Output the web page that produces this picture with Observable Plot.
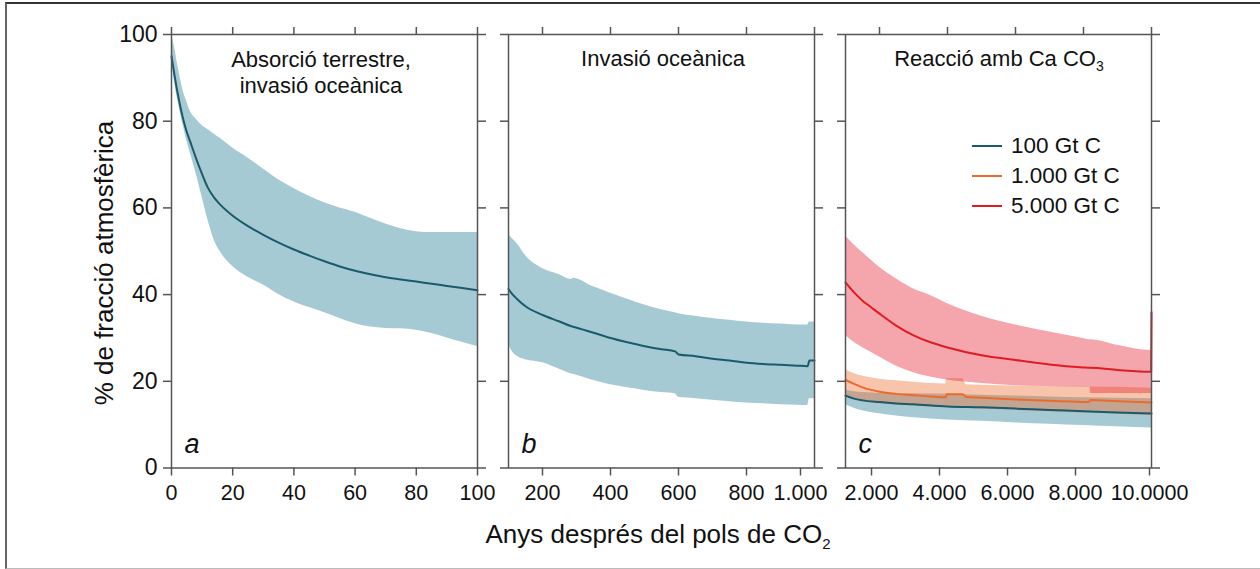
<!DOCTYPE html>
<html><head><meta charset="utf-8">
<script src="https://cdn.jsdelivr.net/npm/d3@7"></script>
<script src="https://cdn.jsdelivr.net/npm/@observablehq/plot@0.6"></script>
<style>
body{margin:0;background:#fff;font-family:"Liberation Sans",Arial,Helvetica,sans-serif;}
#wrap{position:relative;width:1260px;height:569px;overflow:hidden;background:#fff;}
.abs{position:absolute;}
.ptitle{position:absolute;font-size:22px;line-height:26px;text-align:center;white-space:nowrap;color:#111;transform:translateX(-50%);}
.leg{position:absolute;font-size:22.5px;line-height:30px;color:#111;white-space:nowrap;}
.leg span.sw{display:inline-block;width:30px;height:2.5px;vertical-align:middle;margin-right:9px;position:relative;top:-1px;}
#border{position:absolute;left:5px;top:2px;width:1300px;height:564px;border-top:2px solid #333;border-left:2px solid #666;border-bottom:1.5px solid #bbb;}
</style></head>
<body><div id="wrap"><div id="border"></div></div>
<script>
// ---------- data ----------
const yTicks = [0, 20, 40, 60, 80, 100];
const aTicks = [0, 20, 40, 60, 80, 100];
const bTicks = [200, 400, 600, 800, 1000];
const bTickLabels = ["200", "400", "600", "800", "1.000"];
const cTicks = [2000, 4000, 6000, 8000, 10000];
const cTickLabels = ["2.000", "4.000", "6.000", "8.000", "10.0000"];

const panelTitles = ["Absorció terrestre,<br>invasió oceànica", "Invasió oceànica", "Reacció amb Ca CO<sub style=\"font-size:14px;vertical-align:-5px\">3</sub>"];
const panelLetters = ["a", "b", "c"];
const seriesNames = ["100 Gt C", "1.000 Gt C", "5.000 Gt C"];
const yTitle = "% de fracció atmosfèrica";
const xTitle = "Anys després del pols de CO<sub style=\"font-size:15px;vertical-align:-6px\">2</sub>";

// panel a (0-100 years)
const aYears = [0,1,2,3,4,5,6,8,10,12,14,16,20,25,30,35,40,45,50,55,60,65,70,75,80,85,90,95,100];
const aMid = [95,90.5,86.5,83,80,77.5,75.5,71.5,67.8,64.5,62.3,60.7,58.2,55.8,53.8,52,50.4,49,47.7,46.5,45.5,44.7,44,43.5,43,42.5,42,41.5,41];
const aHi  = [100,97,93,89.5,86.5,84.5,82.5,80.5,79,78,77,76,73.8,71.5,69,66.5,64.5,62.7,61.2,60,59,57.6,56.3,55.2,54.5,54.3,54.3,54.3,54.3];
const aLo  = [95,89,85,81.5,78.5,75.5,73,68,62.5,57,52.5,49.8,46.5,44,42.2,40,38.3,37,35.8,34.5,33.3,32.5,32.2,32.1,31.8,31,30,29,28];

// panel b (100-1000 years)
const bYears = [100,110,125,150,200,250,285,290,350,400,450,500,550,590,600,650,700,750,800,850,900,950,980,985,1000];
const bMid = [41.3,40.2,39,37.3,35.3,33.8,32.7,32.6,31.2,30,29,28.1,27.4,26.9,26.2,25.8,25.2,24.8,24.3,24,23.8,23.6,23.5,24.8,24.8];
const bHi  = [54,53,51.8,49,46,44.6,43.5,43.8,41.8,40.3,38.9,37.6,36.5,35.8,35.6,35,34.5,34.1,33.7,33.4,33.2,33,33,33.7,33.7];
const bLo  = [28.6,27,25.8,25,24.3,22.8,21.7,21.6,20.2,19.2,18.5,17.9,17.4,17.1,16.3,16,15.6,15.3,15,14.8,14.6,14.5,14.4,16,16];

// panel c (1000-10000 years)
const redYears = [1000,1250,1500,1750,2000,2500,3000,3500,4000,5000,6000,7000,8000,8190,8210,9000,9990,10000];
const redMid = [42.8,40.5,38.6,37.1,35.6,32.8,30.6,29,27.8,26,24.9,23.9,23.2,23.1,23.1,22.6,22.2,35.9];
const redHi  = [53.6,51.5,49.7,48,46.3,43.6,41.3,39.8,37.9,35,33,31.4,29.9,29.6,29.6,28.3,27.1,27.1];
const redLo  = [30.5,29,27.8,26.7,25.6,23.5,22,21,20.3,19.5,19,18.8,18.6,18.6,17.2,17.2,17.2,17.2];

const orYears = [1000,1250,1500,2000,2500,3000,3500,3950,3970,4450,4550,5000,6000,7000,8150,8200,9000,10000];
const orMid = [20.3,19.4,18.6,17.6,17.1,16.8,16.5,16.3,17,17,16.4,16.2,15.8,15.5,15.2,15.7,15.4,15.1];
const orHi  = [22.6,21.8,21.2,20.5,20.1,19.8,19.5,19.4,20.6,20.6,19.2,19.1,18.9,18.8,18.7,18.7,18.6,18.4];
const orLo  = [16.3,15.8,15.3,14.8,14.5,14.3,14.1,14,14,14,13.8,13.6,13.3,13,12.7,12.7,12.4,12.1];

const blYears = [1000,1250,1500,2000,2500,3000,4000,5000,6000,7000,8000,9000,10000];
const blMid = [16.7,16,15.6,15.2,14.9,14.7,14.2,14,13.7,13.4,13.1,12.8,12.6];
const blHi  = [18,17.6,17.4,17.2,17.1,17.1,17,16.8,16.6,16.4,16.2,16.1,16];
const blLo  = [14.6,13.8,13.2,12.5,12,11.6,11.1,10.8,10.4,10.1,9.8,9.5,9.2];

// ---------- styling ----------
const FONT = '"Liberation Sans", Arial, Helvetica, sans-serif';
const AX = "#555";
const BLUE_BAND = "#a6cad3", BLUE_LINE = "#1b5a6b";
const OR_BAND = "#ee6c30", OR_LINE = "#ec6a2e";
const RED_BAND = "#e3202f", RED_LINE = "#dd1c24";

const zip = (xs, lo, mid, hi) => xs.map((x, i) => ({x, lo: lo[i], mid: mid[i], hi: hi[i]}));

const H = 569, MT = 34, MB = 101.5;

function axes(xTicks, xLabelGroups, showYLabels) {
  const m = [];
  m.push(Plot.frame({stroke: AX, strokeWidth: 1.5}));
  m.push(Plot.axisY({anchor: "left", ticks: yTicks, tickSize: 8, tickPadding: 6, fontSize: 23,
    stroke: AX, strokeWidth: 1.5, label: null, fill: "#111",
    tickFormat: showYLabels ? (d => String(d)) : (() => "")}));
  m.push(Plot.axisY({anchor: "right", ticks: yTicks, tickSize: 8, stroke: AX, strokeWidth: 1.5, label: null, tickFormat: () => ""}));
  m.push(Plot.axisX({anchor: "top", ticks: xTicks, tickSize: 8, stroke: AX, strokeWidth: 1.5, label: null, tickFormat: () => ""}));
  for (const g of xLabelGroups) {
    m.push(Plot.axisX({anchor: "bottom", ticks: g.ticks, tickSize: 8, tickPadding: 9, fontSize: 21.5,
      stroke: AX, strokeWidth: 1.5, fill: "#111", label: null, dx: g.dx,
      tickFormat: d => g.labels[g.ticks.indexOf(d)]}));
  }
  return m;
}
function letterMark(t) {
  return Plot.text([t], {frameAnchor: "bottom-left", text: d => d, dx: 13, dy: -15, textAnchor: "start",
    lineAnchor: "bottom", fontSize: 27, fontStyle: "italic", fill: "#111"});
}
function place(svg, left) {
  svg.style.position = "absolute";
  svg.style.left = left + "px";
  svg.style.top = "0px";
  svg.style.maxWidth = "none";
  svg.style.overflow = "visible";
  document.getElementById("wrap").appendChild(svg);
}

// panel a
const aData = zip(aYears, aLo, aMid, aHi);
place(Plot.plot({
  width: 500, height: H, marginLeft: 171, marginRight: 23, marginTop: MT, marginBottom: MB,
  x: {domain: [0, 100]}, y: {domain: [0, 100]},
  style: {background: "transparent", fontFamily: FONT, overflow: "visible"},
  marks: [
    Plot.areaY(aData, {x: "x", y1: "lo", y2: "hi", fill: BLUE_BAND, curve: "monotone-x"}),
    Plot.lineY(aData, {x: "x", y: "mid", stroke: BLUE_LINE, strokeWidth: 2, curve: "monotone-x"}),
    ...axes(aTicks, [{ticks: aTicks, labels: aTicks.map(String), dx: 0}], true),
    letterMark(panelLetters[0])
  ]
}), 0);

// panel b
const bData = zip(bYears, bLo, bMid, bHi);
place(Plot.plot({
  width: 350, height: H, marginLeft: 18, marginRight: 26, marginTop: MT, marginBottom: MB,
  x: {domain: [100, 1000]}, y: {domain: [0, 100]},
  style: {background: "transparent", fontFamily: FONT, overflow: "visible"},
  marks: [
    Plot.areaY(bData, {x: "x", y1: "lo", y2: "hi", fill: BLUE_BAND, curve: "monotone-x"}),
    Plot.lineY(bData, {x: "x", y: "mid", stroke: BLUE_LINE, strokeWidth: 2, curve: "monotone-x"}),
    ...axes(bTicks, [
      {ticks: bTicks.slice(0, 4), labels: bTickLabels.slice(0, 4), dx: 0},
      {ticks: bTicks.slice(4), labels: bTickLabels.slice(4), dx: -14}
    ], false),
    letterMark(panelLetters[1])
  ]
}), 490);

// panel c
const redData = zip(redYears, redLo, redMid, redHi);
const orData = zip(orYears, orLo, orMid, orHi);
const blData = zip(blYears, blLo, blMid, blHi);
place(Plot.plot({
  width: 440, height: H, marginLeft: 25, marginRight: 109, marginTop: MT, marginBottom: MB,
  x: {domain: [1000, 10000]}, y: {domain: [0, 100]},
  style: {background: "transparent", fontFamily: FONT, overflow: "visible"},
  marks: [
    Plot.areaY(blData, {x: "x", y1: "lo", y2: "hi", fill: BLUE_BAND, curve: "monotone-x"}),
    Plot.areaY(orData, {x: "x", y1: "lo", y2: "hi", fill: OR_BAND, fillOpacity: 0.4, curve: "monotone-x"}),
    Plot.areaY(redData, {x: "x", y1: "lo", y2: "hi", fill: RED_BAND, fillOpacity: 0.4, curve: "monotone-x"}),
    Plot.lineY(blData, {x: "x", y: "mid", stroke: BLUE_LINE, strokeWidth: 2, curve: "monotone-x"}),
    Plot.lineY(orData, {x: "x", y: "mid", stroke: OR_LINE, strokeWidth: 2, curve: "monotone-x"}),
    Plot.lineY(redData, {x: "x", y: "mid", stroke: RED_LINE, strokeWidth: 2, curve: "monotone-x"}),
    ...axes(cTicks, [
      {ticks: cTicks.slice(0, 4), labels: cTickLabels.slice(0, 4), dx: -8},
      {ticks: cTicks.slice(4), labels: cTickLabels.slice(4), dx: -2}
    ], false),
    letterMark(panelLetters[2])
  ]
}), 820);

// ---------- text overlays ----------
const wrap = document.getElementById("wrap");
function addDiv(cls, html, css) {
  const d = document.createElement("div");
  d.className = cls; d.innerHTML = html; Object.assign(d.style, css); wrap.appendChild(d); return d;
}
addDiv("ptitle", panelTitles[0], {left: "321px", top: "47px"});
addDiv("ptitle", panelTitles[1], {left: "663px", top: "46px"});
addDiv("ptitle", panelTitles[2], {left: "999px", top: "46px"});

// y title
addDiv("abs", yTitle, {left: "104px", top: "263px", fontSize: "26px", whiteSpace: "nowrap", color: "#111",
  transform: "translate(-50%,-50%) rotate(-90deg)"});
// x title
addDiv("abs", xTitle, {left: "658px", top: "521px", fontSize: "26px", lineHeight: "26px", whiteSpace: "nowrap", color: "#111",
  transform: "translateX(-50%)"});

// legend
const legColors = [BLUE_LINE, OR_LINE, RED_LINE];
addDiv("leg", seriesNames.map((n, i) =>
  `<div><span class="sw" style="background:${legColors[i]}"></span>${n}</div>`).join(""),
  {left: "972px", top: "131px"});
</script>
</body></html>
